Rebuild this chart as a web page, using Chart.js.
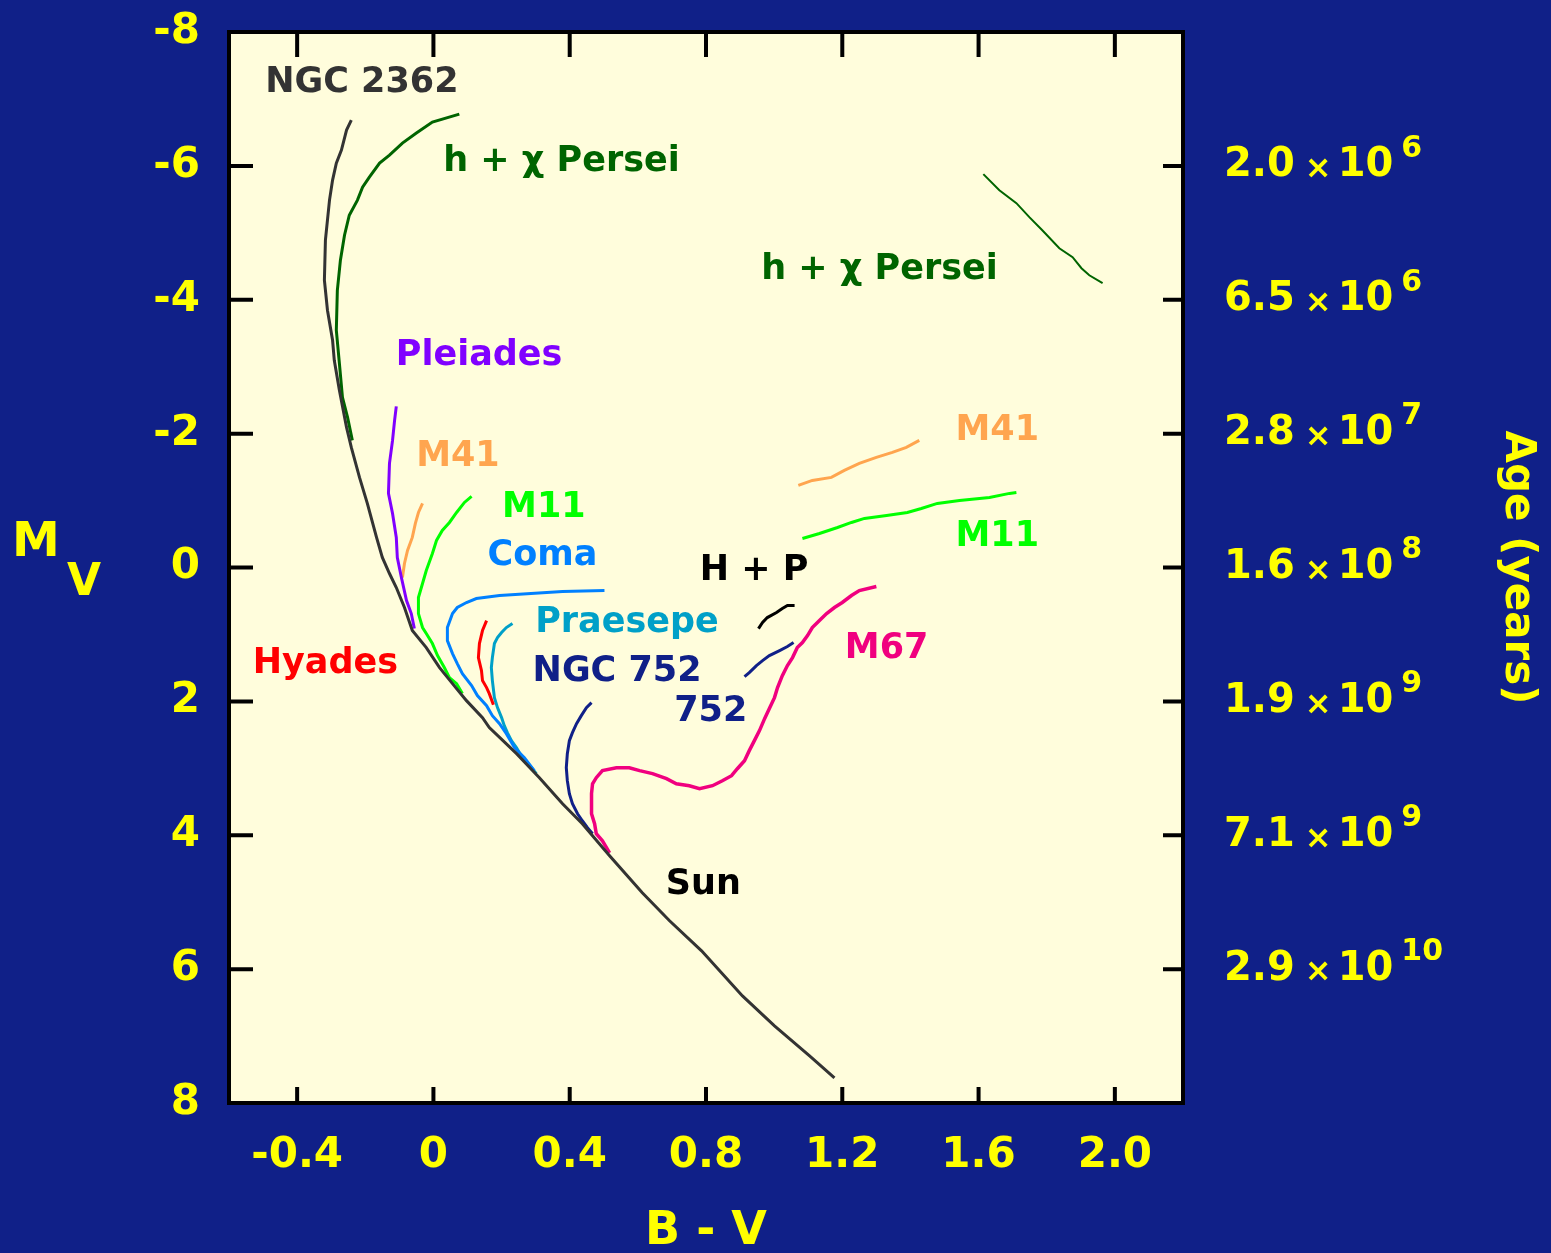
<!DOCTYPE html>
<html>
<head>
<meta charset="utf-8">
<title>Cluster HR diagram</title>
<script src="https://cdn.jsdelivr.net/npm/chart.js@4/dist/chart.umd.min.js"></script>
<style>
  html, body { margin: 0; padding: 0; background: #102088; }
  #wrap { width: 1551px; height: 1253px; }
</style>
</head>
<body>
<div id="wrap"><canvas id="hrChart"></canvas></div>
<script>
// ========== AXES ==========
const xTickValues = [-0.4, 0, 0.4, 0.8, 1.2, 1.6, 2.0];
const xTickLabels = ["-0.4", "0", "0.4", "0.8", "1.2", "1.6", "2.0"];
const yTickValues = [-8, -6, -4, -2, 0, 2, 4, 6, 8];
const yTickLabels = ["-8", "-6", "-4", "-2", "0", "2", "4", "6", "8"];
const ageTickValues = [-6, -4, -2, 0, 2, 4, 6];
const ageMantissa = ["2.0", "6.5", "2.8", "1.6", "1.9", "7.1", "2.9"];
const ageExponent = ["6", "6", "7", "8", "9", "9", "10"];

// ========== CLUSTER SEQUENCES [B-V, M_V] ==========
const ngc2362 = [
  [-0.241, -6.684], [-0.255, -6.535], [-0.270, -6.235], [-0.285, -6.041], [-0.296, -5.787],
  [-0.305, -5.488], [-0.317, -4.890], [-0.320, -4.292], [-0.311, -3.843], [-0.296, -3.394],
  [-0.291, -3.095], [-0.276, -2.647], [-0.255, -2.093], [-0.241, -1.794], [-0.217, -1.346],
  [-0.194, -0.957], [-0.167, -0.449], [-0.150, -0.150], [-0.129, 0.090], [-0.109, 0.299],
  [-0.085, 0.598], [-0.062, 0.942], [-0.021, 1.196], [0.018, 1.495], [0.056, 1.735],
  [0.097, 1.989], [0.144, 2.243], [0.164, 2.392], [0.244, 2.781], [0.311, 3.140],
  [0.379, 3.529], [0.437, 3.828], [0.517, 4.306], [0.613, 4.860], [0.693, 5.278],
  [0.787, 5.727], [0.907, 6.400], [1.001, 6.848], [1.104, 7.297], [1.177, 7.626]
];
const hPerseiMain = [
  [0.076, -6.774], [-0.003, -6.654], [-0.050, -6.490], [-0.091, -6.340], [-0.129, -6.161],
  [-0.158, -6.041], [-0.188, -5.832], [-0.208, -5.682], [-0.223, -5.488], [-0.247, -5.263],
  [-0.261, -4.964], [-0.273, -4.591], [-0.282, -4.142], [-0.285, -3.544], [-0.276, -3.050],
  [-0.267, -2.542], [-0.252, -2.243], [-0.238, -1.899]
];
const hPerseiGiants = [
  [1.614, -5.877], [1.661, -5.637], [1.711, -5.443], [1.749, -5.234], [1.787, -5.039],
  [1.837, -4.770], [1.876, -4.635], [1.902, -4.471], [1.925, -4.366], [1.964, -4.247]
];
const pleiades = [
  [-0.109, -2.407], [-0.114, -2.198], [-0.120, -1.899], [-0.129, -1.555], [-0.132, -1.107],
  [-0.120, -0.807], [-0.109, -0.449], [-0.106, -0.150], [-0.094, 0.150], [-0.079, 0.493],
  [-0.065, 0.688], [-0.056, 0.912]
];
const m41Main = [
  [-0.032, -0.957], [-0.044, -0.822], [-0.053, -0.658], [-0.062, -0.449], [-0.076, -0.254],
  [-0.085, -0.060], [-0.091, 0.150]
];
const m41Giants = [
  [1.071, -1.226], [1.112, -1.301], [1.168, -1.346], [1.206, -1.450], [1.250, -1.555],
  [1.300, -1.645], [1.347, -1.720], [1.388, -1.794], [1.426, -1.899]
];
const m11Main = [
  [0.112, -1.062], [0.091, -0.972], [0.068, -0.822], [0.047, -0.673], [0.026, -0.553],
  [0.009, -0.404], [-0.003, -0.209], [-0.021, 0.045], [-0.032, 0.239], [-0.044, 0.449],
  [-0.044, 0.688], [-0.032, 0.897], [-0.021, 0.987], [-0.003, 1.136], [0.012, 1.316],
  [0.032, 1.495], [0.047, 1.645], [0.068, 1.735], [0.085, 1.884]
];
const m11Giants = [
  [1.083, -0.434], [1.133, -0.508], [1.186, -0.598], [1.227, -0.673], [1.265, -0.733],
  [1.330, -0.778], [1.391, -0.822], [1.432, -0.882], [1.479, -0.957], [1.544, -1.002],
  [1.632, -1.047], [1.691, -1.107], [1.711, -1.121]
];
const coma = [
  [0.502, 0.344], [0.379, 0.359], [0.194, 0.419], [0.126, 0.464], [0.097, 0.523],
  [0.070, 0.598], [0.056, 0.688], [0.041, 0.897], [0.041, 1.092], [0.056, 1.286],
  [0.070, 1.436], [0.085, 1.585], [0.112, 1.764], [0.129, 1.914], [0.156, 2.064],
  [0.173, 2.213], [0.194, 2.333], [0.214, 2.482], [0.238, 2.692], [0.267, 2.841],
  [0.296, 3.035]
];
const hyades = [
  [0.156, 0.793], [0.144, 0.942], [0.135, 1.136], [0.132, 1.346], [0.141, 1.540],
  [0.144, 1.690], [0.156, 1.794], [0.164, 1.884], [0.176, 2.049]
];
const praesepe = [
  [0.232, 0.837], [0.214, 0.897], [0.200, 0.972], [0.188, 1.047], [0.179, 1.136],
  [0.173, 1.346], [0.170, 1.495], [0.173, 1.690], [0.179, 1.944], [0.188, 2.093],
  [0.200, 2.243], [0.208, 2.363], [0.217, 2.467], [0.229, 2.587], [0.244, 2.692],
  [0.261, 2.841], [0.288, 2.991], [0.302, 3.080]
];
const ngc752Main = [
  [0.464, 2.019], [0.449, 2.093], [0.434, 2.213], [0.420, 2.333], [0.408, 2.467],
  [0.399, 2.587], [0.393, 2.781], [0.390, 2.991], [0.393, 3.185], [0.399, 3.379],
  [0.408, 3.529], [0.423, 3.679], [0.437, 3.783], [0.452, 3.888], [0.467, 3.978]
];
const ngc752Giants = [
  [0.913, 1.630], [0.927, 1.570], [0.948, 1.465], [0.966, 1.391], [0.986, 1.316],
  [1.016, 1.241], [1.039, 1.181], [1.057, 1.121]
];
const hPlusP = [
  [0.954, 0.912], [0.966, 0.822], [0.980, 0.748], [1.007, 0.673], [1.024, 0.613],
  [1.039, 0.568], [1.060, 0.568]
];
const m67 = [
  [0.517, 4.262], [0.496, 4.082], [0.478, 3.978], [0.473, 3.828], [0.464, 3.679],
  [0.464, 3.379], [0.467, 3.230], [0.478, 3.140], [0.496, 3.035], [0.537, 2.991],
  [0.575, 2.991], [0.605, 3.035], [0.643, 3.080], [0.684, 3.155], [0.713, 3.230],
  [0.751, 3.260], [0.781, 3.305], [0.819, 3.260], [0.848, 3.185], [0.875, 3.110],
  [0.892, 3.006], [0.913, 2.886], [0.927, 2.736], [0.942, 2.587], [0.957, 2.437],
  [0.972, 2.258], [0.986, 2.108], [1.001, 1.944], [1.010, 1.794], [1.024, 1.615],
  [1.039, 1.465], [1.054, 1.346], [1.068, 1.196], [1.083, 1.121], [1.098, 1.017],
  [1.112, 0.897], [1.133, 0.793], [1.154, 0.688], [1.177, 0.598], [1.200, 0.523],
  [1.227, 0.419], [1.250, 0.344], [1.300, 0.284]
];

// ========== LABELS (text, B-V, M_V, colour key) ==========
const labelText = ["NGC 2362", "h + \u03C7 Persei", "h + \u03C7 Persei", "Pleiades", "M41", "M41",
  "M11", "M11", "Coma", "Praesepe", "NGC 752", "752", "H + P", "M67", "Hyades", "Sun"];
const labelBV = [-0.210, 0.376, 1.309, 0.134, 0.072, 1.655, 0.324, 1.655, 0.320, 0.568,
  0.539, 0.814, 0.941, 1.330, -0.317, 0.792];
const labelMV = [-7.237, -6.056, -4.441, -3.155, -1.645, -2.034, -0.897, -0.464, -0.179, 0.822,
  1.555, 2.153, 0.045, 1.211, 1.436, 4.740];
const labelKey = ["gray", "dkgreen", "dkgreen", "purple", "orange", "orange", "lime", "lime",
  "blue", "teal", "navy", "navy", "black", "pink", "red", "black"];

const colors = {
  gray: "#333333", dkgreen: "#006400", purple: "#8000ff", orange: "#ffa54f",
  lime: "#00ff00", blue: "#0080ff", teal: "#00a0c8", navy: "#102088",
  black: "#000000", pink: "#f0007f", red: "#ff0000"
};

const toXY = (arr) => arr.map((p) => ({ x: p[0], y: p[1] }));
const line = (label, arr, key, width) => ({
  label: label,
  data: toXY(arr),
  showLine: true,
  borderColor: colors[key],
  backgroundColor: colors[key],
  borderWidth: width || 3,
  pointRadius: 0,
  fill: false,
  tension: 0,
});

// ========== DECORATION PLUGIN ==========
const frame = {
  id: "frame",
  beforeDraw(chart) {
    const { ctx, chartArea: a } = chart;
    ctx.save();
    ctx.fillStyle = "#102088";
    ctx.fillRect(0, 0, chart.width, chart.height);
    ctx.fillStyle = "#fffddc";
    ctx.fillRect(a.left, a.top, a.right - a.left, a.bottom - a.top);
    ctx.restore();
  },
  afterDatasetsDraw(chart) {
    const { ctx, scales } = chart;
    ctx.save();
    ctx.font = "bold 35px 'DejaVu Sans'";
    ctx.textAlign = "center";
    ctx.textBaseline = "middle";
    labelText.forEach((t, i) => {
      ctx.fillStyle = colors[labelKey[i]];
      ctx.fillText(t, scales.x.getPixelForValue(labelBV[i]), scales.y.getPixelForValue(labelMV[i]));
    });
    ctx.restore();
  },
  afterDraw(chart) {
    const { ctx, chartArea: a, scales } = chart;
    ctx.save();
    // frame + inward ticks
    ctx.strokeStyle = "#000";
    ctx.lineWidth = 4;
    ctx.strokeRect(a.left, a.top, a.right - a.left, a.bottom - a.top);
    ctx.beginPath();
    xTickValues.forEach((v) => {
      const px = scales.x.getPixelForValue(v);
      ctx.moveTo(px, a.bottom);
      ctx.lineTo(px, a.bottom - 16);
      ctx.moveTo(px, a.top);
      ctx.lineTo(px, a.top + 25);
    });
    yTickValues.forEach((v) => {
      const py = scales.y.getPixelForValue(v);
      ctx.moveTo(a.left, py);
      ctx.lineTo(a.left + 24, py);
    });
    ageTickValues.forEach((v) => {
      const py = scales.y2.getPixelForValue(v);
      ctx.moveTo(a.right, py);
      ctx.lineTo(a.right - 20, py);
    });
    ctx.stroke();

    // age labels on the right (mantissa x 10^exp)
    ctx.fillStyle = "#ffff00";
    ctx.textAlign = "left";
    ctx.textBaseline = "middle";
    ageTickValues.forEach((v, i) => {
      const py = scales.y2.getPixelForValue(v);
      let x = a.right + 41;
      ctx.font = "bold 40px 'DejaVu Sans'";
      ctx.fillText(ageMantissa[i], x, py);
      x += ctx.measureText(ageMantissa[i]).width + 10;
      ctx.font = "bold 32px 'DejaVu Sans'";
      ctx.fillText("\u00D7", x, py + 4);
      x += ctx.measureText("\u00D7").width + 6;
      ctx.font = "bold 40px 'DejaVu Sans'";
      ctx.fillText("10", x, py);
      x += ctx.measureText("10").width + 8;
      ctx.font = "bold 30px 'DejaVu Sans'";
      ctx.fillText(ageExponent[i], x, py - 17);
    });

    // M_V title on the left
    const y0 = scales.y.getPixelForValue(0);
    ctx.textAlign = "center";
    ctx.font = "bold 48px 'DejaVu Sans'";
    ctx.fillText("M", 36, y0 - 24);
    ctx.font = "bold 44px 'DejaVu Sans'";
    ctx.fillText("V", 84, y0 + 16);
    ctx.restore();
  },
};

new Chart(document.getElementById("hrChart"), {
  type: "scatter",
  data: {
    datasets: [
      line("NGC 2362", ngc2362, "gray", 3),
      line("h + \u03C7 Persei", hPerseiMain, "dkgreen", 3),
      line("h + \u03C7 Persei giants", hPerseiGiants, "dkgreen", 2),
      line("Pleiades", pleiades, "purple", 3),
      line("M41", m41Main, "orange", 3),
      line("M41 giants", m41Giants, "orange", 3),
      line("M11", m11Main, "lime", 3),
      line("M11 giants", m11Giants, "lime", 3),
      line("Coma", coma, "blue", 3),
      line("Hyades", hyades, "red", 3),
      line("Praesepe", praesepe, "teal", 3),
      line("NGC 752", ngc752Main, "navy", 3),
      line("NGC 752 giants", ngc752Giants, "navy", 3),
      line("H + P", hPlusP, "black", 3),
      line("M67", m67, "pink", 3.5),
    ],
  },
  options: {
    responsive: true,
    maintainAspectRatio: false,
    animation: false,
    layout: { padding: { top: 32, left: 0, right: 0, bottom: 0 } },
    plugins: { legend: { display: false }, tooltip: { enabled: false } },
    scales: {
      x: {
        type: "linear",
        position: "bottom",
        min: -0.6,
        max: 2.2,
        afterBuildTicks: (scale) => { scale.ticks = xTickValues.map((v) => ({ value: v })); },
        afterFit: (scale) => { scale.height = 150; },
        grid: { display: false, drawTicks: false },
        border: { display: false },
        ticks: {
          color: "#ffff00",
          font: { family: "DejaVu Sans", size: 42, weight: "bold" },
          padding: 28,
          maxRotation: 0,
          autoSkip: false,
          callback: (v, i) => xTickLabels[i],
        },
        title: {
          display: true,
          text: "B - V",
          color: "#ffff00",
          font: { family: "DejaVu Sans", size: 46, weight: "bold", lineHeight: 0.9 },
          padding: 0,
        },
      },
      y: {
        type: "linear",
        position: "left",
        reverse: true,
        min: -8,
        max: 8,
        afterBuildTicks: (scale) => { scale.ticks = yTickValues.map((v) => ({ value: v })); },
        afterFit: (scale) => { scale.width = 229; },
        grid: { display: false, drawTicks: false },
        border: { display: false },
        ticks: {
          color: "#ffff00",
          // small lineHeight keeps the top/bottom label overflow under the 32px top margin
          font: { family: "DejaVu Sans", size: 42, weight: "bold", lineHeight: 0.1 },
          padding: 29,
          autoSkip: false,
          callback: (v, i) => yTickLabels[i],
        },
      },
      y2: {
        type: "linear",
        position: "right",
        reverse: true,
        min: -8,
        max: 8,
        afterBuildTicks: (scale) => { scale.ticks = ageTickValues.map((v) => ({ value: v })); },
        afterFit: (scale) => { scale.width = 368; },
        grid: { display: false, drawTicks: false },
        border: { display: false },
        ticks: { display: false },
        title: {
          display: true,
          text: "Age (years)",
          color: "#ffff00",
          font: { family: "DejaVu Sans", size: 42, weight: "bold" },
          padding: { top: 9, bottom: 0 },
        },
      },
    },
  },
  plugins: [frame],
});
</script>
</body>
</html>
